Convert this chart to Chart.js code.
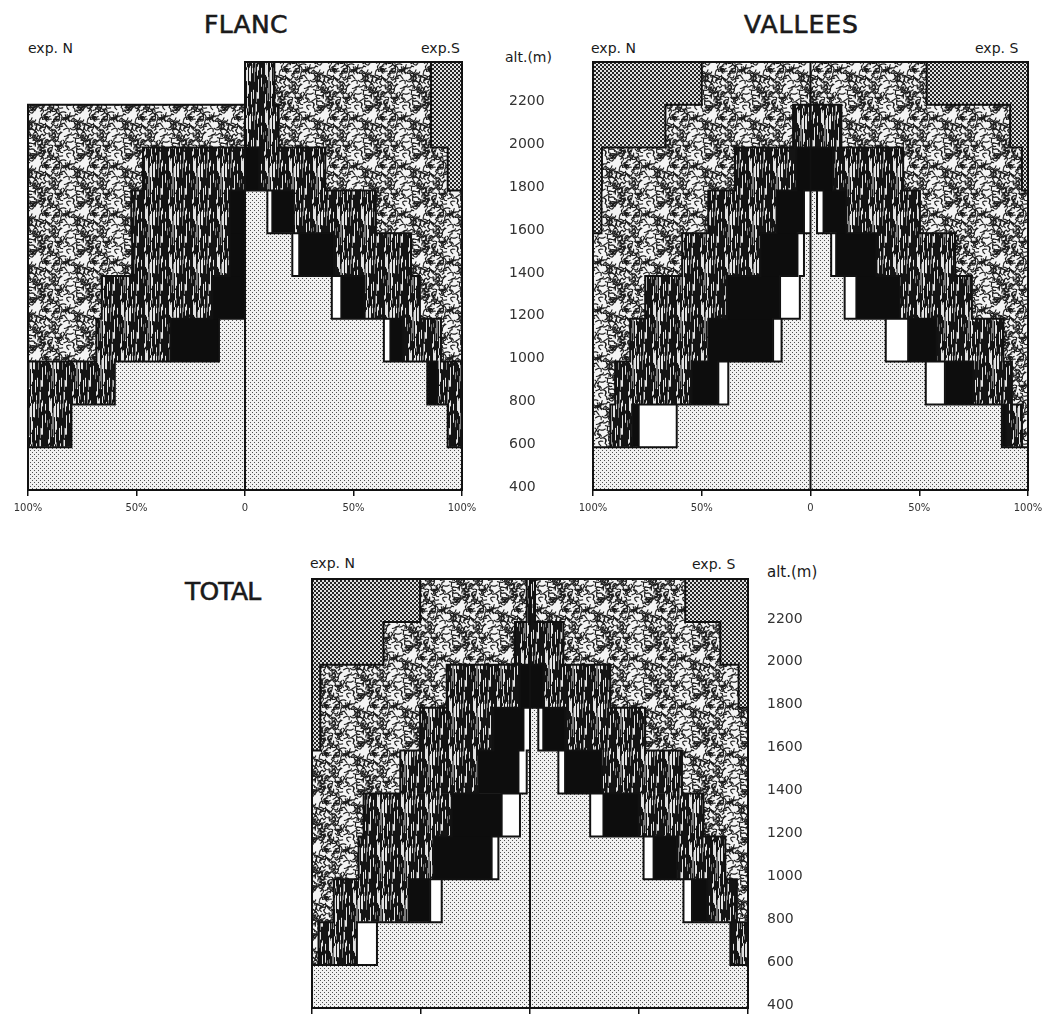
<!DOCTYPE html>
<html>
<head>
<meta charset="utf-8">
<script src="https://cdn.jsdelivr.net/npm/chart.js@4.4.1/dist/chart.umd.min.js"></script>
<style>
    html, body { margin: 0; padding: 0; background: #fff; }
    body { width: 1046px; height: 1017px; position: relative; overflow: hidden; font-family: "DejaVu Sans", sans-serif; color: #1a1a1a; }
    canvas { position: absolute; }
    .lbl { position: absolute; white-space: nowrap; line-height: 1; }
    .title { font-size: 25px; -webkit-text-stroke: 0.6px #1a1a1a; }
    .exp { font-size: 14px; }
</style>
</head>
<body>
<div class="lbl title" style="left:204px; top:12px; letter-spacing:0.3px;">FLANC</div>
<div class="lbl title" style="left:744px; top:12px; letter-spacing:1px;">VALLEES</div>
<div class="lbl title" style="left:185px; top:579px; letter-spacing:-0.8px;">TOTAL</div>

<div class="lbl exp" style="left:28px; top:41px;">exp. N</div>
<div class="lbl exp" style="left:421px; top:41px;">exp.S</div>
<div class="lbl exp" style="left:591px; top:41px;">exp. N</div>
<div class="lbl exp" style="left:975px; top:41px;">exp. S</div>
<div class="lbl exp" style="left:505px; top:50px;">alt.(m)</div>

<div class="lbl exp" style="left:310px; top:556px;">exp. N</div>
<div class="lbl exp" style="left:692px; top:557px;">exp. S</div>
<div class="lbl exp" style="left:767px; top:565px; font-size:15px;">alt.(m)</div>

<canvas id="flanc" width="580" height="520" style="left:0; top:0;"></canvas>
<canvas id="vallees" width="466" height="520" style="left:580px; top:0;"></canvas>
<canvas id="total" width="560" height="477" style="left:280px; top:540px;"></canvas>

<script>
// Tranches d'altitude : limite basse de chaque tranche (pas de 200 m)
const bandFloors = [400, 600, 800, 1000, 1200, 1400, 1600, 1800, 2000, 2200];
const bandStep = 200;
const altTicks = [400, 600, 800, 1000, 1200, 1400, 1600, 1800, 2000, 2200];
const xTickValues = [-100, -50, 0, 50, 100];
const xTickLabels = ['100%', '50%', '0', '50%', '100%'];

// Ordre des trames, depuis l'axe 0 vers l'extérieur
const categories = ['pointillé', 'blanc', 'noir', 'écorce', 'vermiculé', 'damier'];

// FLANC - exp. N (% de chaque tranche)
const flancN_dotted   = [100, 80, 60, 12, 0, 0, 0, 0, 0, 0];
const flancN_blank    = [0, 0, 0, 0, 0, 0, 0, 0, 0, 0];
const flancN_black    = [0, 0, 0, 22.4, 15, 7, 7, 0, 0, 0];
const flancN_bark     = [0, 20, 40, 34.1, 51, 45, 45.4, 47, 0, 0];
const flancN_squiggle = [0, 0, 0, 31.5, 34, 48, 47.6, 53, 100, 0];
const flancN_checker  = [0, 0, 0, 0, 0, 0, 0, 0, 0, 0];

// FLANC - exp. S
const flancS_dotted   = [100, 93.4, 84, 64, 40, 21.8, 10.3, 0, 0, 0];
const flancS_blank    = [0, 0, 0, 3, 4.4, 3.2, 2.3, 0, 0, 0];
const flancS_black    = [0, 0, 4.7, 5.6, 10.6, 16, 9.9, 6.5, 0, 0];
const flancS_bark     = [0, 6.6, 11.3, 17.7, 25.6, 35.5, 37.8, 30.5, 15.5, 13.5];
const flancS_squiggle = [0, 0, 0, 9.7, 19.4, 23.5, 39.7, 56.4, 70.2, 72.2];
const flancS_checker  = [0, 0, 0, 0, 0, 0, 0, 6.6, 14.3, 14.3];

// VALLEES - exp. N
const valleesN_dotted   = [100, 61.5, 37.8, 13.3, 4.9, 3, 0, 0, 0, 0];
const valleesN_blank    = [0, 17.5, 4.6, 3.9, 9.1, 3, 3, 0, 0, 0];
const valleesN_black    = [0, 3, 12.2, 29.8, 24.5, 17, 12.6, 6.4, 0, 0];
const valleesN_bark     = [0, 10, 35.2, 35.9, 37.5, 36, 31.4, 28.3, 8, 0];
const valleesN_squiggle = [0, 8, 10.2, 17.1, 24, 41, 49.1, 61.2, 58.7, 50];
const valleesN_checker  = [0, 0, 0, 0, 0, 0, 3.9, 4.1, 33.3, 50];

// VALLEES - exp. S
const valleesS_dotted   = [100, 88, 53, 34.6, 15.7, 9.5, 3, 0, 0, 0];
const valleesS_blank    = [0, 0, 8.8, 10.3, 5.4, 2.3, 3, 0, 0, 0];
const valleesS_black    = [0, 2, 13.1, 13.1, 19.9, 18.5, 10.5, 10.3, 0, 0];
const valleesS_bark     = [0, 7.2, 17.7, 30.7, 33.2, 36.2, 33.8, 32.3, 14.2, 0];
const valleesS_squiggle = [0, 2.8, 7.4, 11.3, 25.8, 33.5, 49.7, 54.6, 77.6, 53.4];
const valleesS_checker  = [0, 0, 0, 0, 0, 0, 0, 2.8, 8.2, 46.6];

// TOTAL - exp. N
const totalN_dotted   = [100, 70.2, 40.5, 14.5, 4.6, 1.5, 0, 0, 0, 0];
const totalN_blank    = [0, 9.2, 5.3, 3.1, 8.4, 3.8, 3, 0, 0, 0];
const totalN_black    = [0, 0, 9.9, 26.7, 22.9, 18.4, 13.8, 4.6, 0, 0];
const totalN_bark     = [0, 17.6, 34.3, 34.3, 40.4, 35.8, 33.6, 33.6, 6.9, 1.5];
const totalN_squiggle = [0, 3, 10, 21.4, 23.7, 40.5, 45.8, 58, 60.3, 48.9];
const totalN_checker  = [0, 0, 0, 0, 0, 0, 3.8, 3.8, 32.8, 49.6];

// TOTAL - exp. S
const totalS_dotted   = [100, 91.9, 70.4, 52.1, 27.6, 13, 3.8, 0, 0, 0];
const totalS_blank    = [0, 0, 3.9, 4.6, 6.1, 3.1, 2.3, 0, 0, 0];
const totalS_black    = [0, 0, 6.9, 10.7, 16.1, 16.8, 10, 6.1, 0, 0];
const totalS_bark     = [0, 8.1, 13.7, 22.2, 29.8, 36.8, 36.7, 30.7, 15.3, 2.3];
const totalS_squiggle = [0, 0, 5.1, 10.4, 20.4, 30.3, 47.2, 58.9, 72, 68.9];
const totalS_checker  = [0, 0, 0, 0, 0, 0, 0, 4.3, 12.7, 28.8];

// Création des trames (motifs)
function makeTile(w, h, draw) {
    const c = document.createElement('canvas');
    c.width = w; c.height = h;
    const t = c.getContext('2d');
    draw(t, w, h);
    return document.createElement('canvas').getContext('2d').createPattern(c, 'repeat');
}

// petit hachage déterministe pour le grain des trames
const grain = i => {
    const s = Math.sin(i * 127.1 + 311.7) * 43758.5453;
    return s - Math.floor(s);
};

const dottedPattern = makeTile(4, 4, t => {
    t.fillStyle = '#f1f1f1'; t.fillRect(0, 0, 4, 4);
    t.fillStyle = '#505050';
    t.fillRect(0, 0, 1, 1); t.fillRect(2, 2, 1, 1);
});

const checkerPattern = makeTile(4, 4, t => {
    t.fillStyle = '#e2e2e2'; t.fillRect(0, 0, 4, 4);
    t.fillStyle = '#262626';
    t.fillRect(0, 0, 2, 2); t.fillRect(2, 2, 2, 2);
});

const squigglePattern = makeTile(48, 48, (t, w, h) => {
    t.fillStyle = '#f4f4f4'; t.fillRect(0, 0, w, h);
    t.strokeStyle = '#1c1c1c'; t.lineWidth = 1.15; t.lineJoin = 'round'; t.lineCap = 'round';
    for (let i = 0; i < 125; i++) {
        const pts = [[grain(i) * w, grain(i + 200) * h]];
        let a = grain(i + 400) * Math.PI * 2;
        for (let k = 0; k < 4; k++) {
            a += (grain(i * 7 + k + 600) - 0.5) * 3.2;
            const p = pts[pts.length - 1];
            pts.push([p[0] + Math.cos(a) * 2.2, p[1] + Math.sin(a) * 2.2]);
        }
        for (const dx of [-w, 0, w]) for (const dy of [-h, 0, h]) {
            t.beginPath();
            t.moveTo(pts[0][0] + dx, pts[0][1] + dy);
            pts.slice(1).forEach(p => t.lineTo(p[0] + dx, p[1] + dy));
            t.stroke();
        }
    }
});

const barkPattern = makeTile(24, 48, (t, w, h) => {
    t.fillStyle = '#141414'; t.fillRect(0, 0, w, h);
    t.lineWidth = 1;
    for (let i = 0; i < 38; i++) {
        const x = Math.floor(grain(i + 900) * w) + 0.5;
        const y0 = grain(i + 1000) * h;
        const len = 4 + grain(i + 1100) * 14;
        t.strokeStyle = grain(i + 1200) > 0.35 ? '#e2e2e2' : '#7c7c7c';
        for (const dy of [-h, 0, h]) {
            t.beginPath(); t.moveTo(x, y0 + dy); t.lineTo(x, y0 + len + dy); t.stroke();
        }
    }
});

const fills = [dottedPattern, '#ffffff', '#0d0d0d', barkPattern, squigglePattern, checkerPattern];

// Contours des zones : on trace les limites entre trames différentes
const outlinePlugin = {
    id: 'outlines',
    afterDatasetsDraw(chart) {
        const ctx = chart.ctx;
        const xs = chart.scales.x;
        const ys = chart.scales.y;
        const rows = bandFloors.length;
        const segs = { N: [], S: [] };
        ['N', 'S'].forEach(side => {
            const cum = new Array(rows).fill(0);
            for (let r = 0; r < rows; r++) segs[side].push([]);
            chart.data.datasets.filter(ds => ds.side === side).forEach(ds => {
                ds.data.forEach((pt, r) => {
                    const w = Math.abs(pt.x);
                    if (w > 0) {
                        segs[side][r].push([cum[r], cum[r] + w, ds.cat]);
                        cum[r] += w;
                    }
                });
            });
        });

        const xPix = (side, p) => xs.getPixelForValue(side === 'N' ? -p : p);
        const yPix = k => ys.getPixelForValue(bandFloors[0] + bandStep * k);
        const catAt = (list, p) => {
            if (!list) return -1;
            const s = list.find(s => s[0] < p && p < s[1]);
            return s ? s[2] : -1;
        };

        ctx.save();
        ctx.strokeStyle = '#111';
        ctx.lineWidth = 2;
        ctx.lineCap = 'square';
        ctx.beginPath();
        ['N', 'S'].forEach(side => {
            // limites verticales
            for (let r = 0; r < rows; r++) {
                segs[side][r].forEach(s => {
                    [s[0], s[1]].forEach(p => {
                        const x = xPix(side, p);
                        ctx.moveTo(x, yPix(r));
                        ctx.lineTo(x, yPix(r + 1));
                    });
                });
            }
            // limites horizontales
            for (let k = 0; k <= rows; k++) {
                const below = k > 0 ? segs[side][k - 1] : null;
                const above = k < rows ? segs[side][k] : null;
                const pts = [0];
                [below, above].forEach(l => l && l.forEach(s => pts.push(s[0], s[1])));
                const uniq = [...new Set(pts)].sort((a, b) => a - b);
                for (let i = 0; i < uniq.length - 1; i++) {
                    const mid = (uniq[i] + uniq[i + 1]) / 2;
                    if (catAt(below, mid) !== catAt(above, mid)) {
                        ctx.moveTo(xPix(side, uniq[i]), yPix(k));
                        ctx.lineTo(xPix(side, uniq[i + 1]), yPix(k));
                    }
                }
            }
        });
        ctx.stroke();
        ctx.restore();
    }
};

function makePanel(canvasId, northSeries, southSeries, opts) {
    const datasets = [];
    ['N', 'S'].forEach(side => {
        const series = side === 'N' ? northSeries : southSeries;
        series.forEach((values, c) => {
            datasets.push({
                label: categories[c] + ' ' + side,
                data: values.map((v, r) => ({ x: side === 'N' ? -v : v, y: bandFloors[r] + bandStep / 2 })),
                backgroundColor: fills[c],
                borderWidth: 0,
                side: side,
                cat: c,
                barPercentage: 1,
                categoryPercentage: 1
            });
        });
    });

    const ctx = document.getElementById(canvasId).getContext('2d');
    return new Chart(ctx, {
        type: 'bar',
        data: { datasets: datasets },
        plugins: [outlinePlugin],
        options: {
            indexAxis: 'y',
            responsive: false,
            animation: false,
            events: [],
            layout: { padding: opts.padding },
            plugins: { legend: { display: false }, tooltip: { enabled: false } },
            scales: {
                x: {
                    type: 'linear',
                    min: -100,
                    max: 100,
                    stacked: true,
                    afterBuildTicks: s => { s.ticks = xTickValues.map(v => ({ value: v })); },
                    afterFit: s => { s.height = opts.xHeight; s.paddingLeft = 0; s.paddingRight = 0; },
                    border: { display: true, color: '#111', width: 2 },
                    grid: { display: true, drawOnChartArea: false, drawTicks: true, tickLength: 6, color: '#111', lineWidth: 1.5 },
                    ticks: {
                        display: opts.xLabels,
                        padding: 6,
                        color: '#333',
                        font: { family: 'DejaVu Sans', size: 10 },
                        callback: (v, i) => xTickLabels[i]
                    }
                },
                y: {
                    type: 'linear',
                    position: 'right',
                    offset: false,
                    min: bandFloors[0],
                    max: bandFloors[bandFloors.length - 1] + bandStep,
                    stacked: true,
                    display: opts.altLabels,
                    afterBuildTicks: s => { s.ticks = altTicks.map(v => ({ value: v })); },
                    afterFit: s => { s.width = opts.altWidth; s.paddingTop = 0; s.paddingBottom = 0; },
                    border: { display: false },
                    grid: { display: false, drawTicks: false, offset: false },
                    ticks: {
                        padding: opts.altPadding,
                        labelOffset: -3,
                        color: '#333',
                        font: { family: 'DejaVu Sans', size: opts.altFont },
                        callback: v => String(v)
                    }
                }
            }
        }
    });
}

makePanel('flanc',
    [flancN_dotted, flancN_blank, flancN_black, flancN_bark, flancN_squiggle, flancN_checker],
    [flancS_dotted, flancS_blank, flancS_black, flancS_bark, flancS_squiggle, flancS_checker],
    { padding: { left: 28, top: 62, right: 0, bottom: 0 }, xHeight: 30, xLabels: true,
      altLabels: true, altWidth: 118, altPadding: 47, altFont: 14 });

makePanel('vallees',
    [valleesN_dotted, valleesN_blank, valleesN_black, valleesN_bark, valleesN_squiggle, valleesN_checker],
    [valleesS_dotted, valleesS_blank, valleesS_black, valleesS_bark, valleesS_squiggle, valleesS_checker],
    { padding: { left: 13, top: 62, right: 18, bottom: 0 }, xHeight: 30, xLabels: true,
      altLabels: false, altWidth: 0, altPadding: 0, altFont: 14 });

makePanel('total',
    [totalN_dotted, totalN_blank, totalN_black, totalN_bark, totalN_squiggle, totalN_checker],
    [totalS_dotted, totalS_blank, totalS_black, totalS_bark, totalS_squiggle, totalS_checker],
    { padding: { left: 32, top: 39, right: 0, bottom: 0 }, xHeight: 9, xLabels: false,
      altLabels: true, altWidth: 92, altPadding: 19, altFont: 14 });
</script>
</body>
</html>
